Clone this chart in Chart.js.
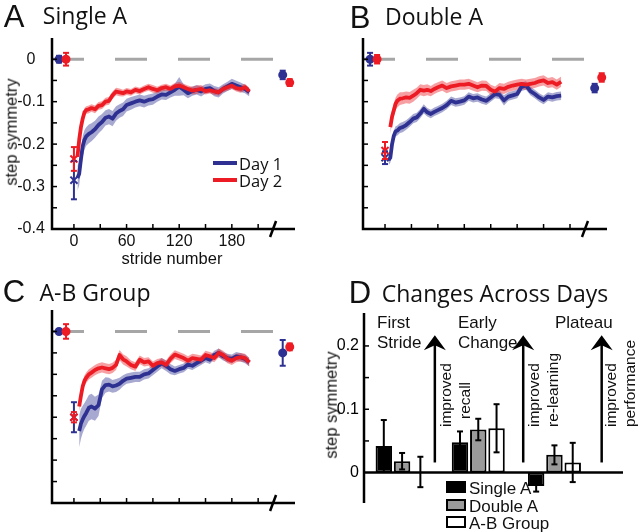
<!DOCTYPE html>
<html>
<head>
<meta charset="utf-8">
<script src="https://cdn.jsdelivr.net/npm/chart.js@4.4.0/dist/chart.umd.min.js"></script>
<style>
body{margin:0;background:#fff;}
#wrap{position:relative;width:640px;height:532px;overflow:hidden;font-family:"Liberation Sans",Arial,sans-serif;color:#111;}
canvas{position:absolute;left:0;top:0;}
.t{position:absolute;white-space:nowrap;line-height:1;}
.c{transform:translate(-50%,-50%);}
.l{transform:translate(0,-50%);}
.rot{transform:translate(-50%,-50%) rotate(-90deg);}
.big{font-size:31px;}
.ttl{font-family:"Open Sans",sans-serif;font-size:23px;}
.blk{position:absolute;white-space:nowrap;line-height:1;font-size:15.5px;transform-origin:0 0;transform:rotate(-90deg);}
.sw{position:absolute;width:20px;height:12px;box-sizing:border-box;border:2px solid #000;}
.leg{position:absolute;height:4px;width:24px;}
</style>
</head>
<body>
<div id="wrap">
<canvas id="cA" width="640" height="532"></canvas>
<canvas id="cB" width="640" height="532"></canvas>
<canvas id="cC" width="640" height="532"></canvas>
<canvas id="cD" width="640" height="532"></canvas>

<div class="t c big" style="left:14px;top:16px">A</div>
<div class="t c ttl" style="left:85px;top:15px">Single A</div>
<div class="t c big" style="left:360px;top:17px">B</div>
<div class="t c ttl" style="left:434px;top:16px">Double A</div>
<div class="t c big" style="left:14px;top:291px">C</div>
<div class="t c ttl" style="left:95px;top:292px">A-B Group</div>
<div class="t c big" style="left:360px;top:292px">D</div>
<div class="t c ttl" style="left:495px;top:293px">Changes Across Days</div>

<div class="t rot" style="left:11px;top:132px;font-size:16.5px">step symmetry</div>
<div class="t c" style="left:172px;top:258px;font-size:16.5px">stride number</div>

<div class="leg" style="left:213px;top:161px;background:#2e3192"></div>
<div class="leg" style="left:213px;top:178px;background:#ed1c24"></div>
<div class="t l" style="left:239px;top:164px;font-family:'Open Sans',sans-serif;font-size:16.5px">Day 1</div>
<div class="t l" style="left:239px;top:181px;font-family:'Open Sans',sans-serif;font-size:16.5px">Day 2</div>

<div class="t rot" style="left:331px;top:405px;font-size:16.5px">step symmetry</div>
<div class="t l" style="left:377px;top:322px;font-size:17px">First</div>
<div class="t l" style="left:377px;top:342px;font-size:17px">Stride</div>
<div class="t l" style="left:458px;top:322px;font-size:17px">Early</div>
<div class="t l" style="left:458px;top:342px;font-size:17px">Change</div>
<div class="t l" style="left:555px;top:322px;font-size:17px">Plateau</div>

<div class="blk" style="left:438px;top:427px">improved</div>
<div class="blk" style="left:457px;top:419px">recall</div>
<div class="blk" style="left:526px;top:427px">improved</div>
<div class="blk" style="left:545px;top:427px">re-learning</div>
<div class="blk" style="left:603px;top:427px">improved</div>
<div class="blk" style="left:622px;top:427px">performance</div>

<div class="sw" style="left:446px;top:481px;background:#000"></div>
<div class="sw" style="left:446px;top:499px;background:#9a9a9a"></div>
<div class="sw" style="left:446px;top:516px;background:#fff"></div>
<div class="t l" style="left:469px;top:488px;font-size:17px">Single A</div>
<div class="t l" style="left:469px;top:506px;font-size:17px">Double A</div>
<div class="t l" style="left:469px;top:523px;font-size:17px">A-B Group</div>
</div>

<script>
// stride positions of the averaged traces
const strides = [4,6,8,10,12,14,17,20,24,28,32,36,40,44,48,52,56,60,65,70,75,80,85,90,95,100,105,110,115,120,125,130,135,140,145,150,155,160,165,170,175,180,185,190,195,200];

const singleDay1 = [-0.28,-0.27,-0.235,-0.205,-0.19,-0.182,-0.176,-0.172,-0.165,-0.155,-0.148,-0.138,-0.135,-0.14,-0.128,-0.122,-0.118,-0.108,
  -0.104,-0.1,-0.097,-0.1,-0.096,-0.094,-0.088,-0.083,-0.084,-0.078,-0.072,-0.064,-0.072,-0.08,-0.075,-0.072,-0.076,-0.07,-0.068,-0.075,
  -0.078,-0.07,-0.064,-0.058,-0.062,-0.066,-0.07,-0.078];
const singleSem1 = [0.03,0.027,0.025,0.024,0.023,0.022,0.022,0.021,0.02,0.02,0.019,0.018,0.018,0.018,0.017,0.016,0.016,0.015,
  0.015,0.014,0.014,0.014,0.013,0.013,0.012,0.012,0.012,0.012,0.014,0.022,0.013,0.012,0.011,0.011,0.012,0.011,0.011,0.012,
  0.012,0.011,0.011,0.012,0.011,0.011,0.01,0.01];
const singleDay2 = [-0.23,-0.19,-0.16,-0.14,-0.125,-0.12,-0.118,-0.115,-0.118,-0.11,-0.108,-0.1,-0.098,-0.085,-0.076,-0.078,-0.08,-0.076,
  -0.078,-0.072,-0.075,-0.07,-0.066,-0.07,-0.073,-0.068,-0.066,-0.07,-0.064,-0.062,-0.066,-0.07,-0.074,-0.072,-0.07,-0.075,-0.073,-0.076,
  -0.078,-0.07,-0.066,-0.062,-0.068,-0.07,-0.066,-0.076];
const singleSem2 = [0.015,0.012,0.01,0.01,0.01,0.009,0.009,0.009,0.009,0.009,0.009,0.009,0.009,0.009,0.009,0.009,0.008,0.008,
  0.008,0.008,0.008,0.008,0.008,0.009,0.008,0.008,0.008,0.008,0.008,0.009,0.008,0.008,0.009,0.01,0.009,0.008,0.008,0.008,
  0.008,0.008,0.008,0.008,0.008,0.009,0.008,0.008];

const doubleDay1 = [-0.238,-0.232,-0.2,-0.18,-0.17,-0.168,-0.162,-0.16,-0.155,-0.148,-0.14,-0.137,-0.128,-0.117,-0.125,-0.129,-0.124,-0.12,
  -0.115,-0.108,-0.098,-0.102,-0.1,-0.097,-0.088,-0.092,-0.09,-0.095,-0.098,-0.09,-0.082,-0.084,-0.097,-0.088,-0.085,-0.082,-0.065,-0.062,
  -0.075,-0.082,-0.09,-0.096,-0.088,-0.09,-0.087,-0.086];
const doubleSem1 = [0.012,0.012,0.012,0.012,0.012,0.012,0.012,0.012,0.011,0.011,0.011,0.011,0.011,0.011,0.01,0.01,0.01,0.01,
  0.01,0.01,0.01,0.01,0.01,0.01,0.01,0.01,0.01,0.01,0.01,0.01,0.01,0.01,0.012,0.01,0.01,0.01,0.01,0.01,
  0.01,0.01,0.01,0.01,0.01,0.01,0.01,0.01];
const doubleDay2 = [null,-0.16,-0.135,-0.12,-0.105,-0.098,-0.093,-0.092,-0.09,-0.091,-0.086,-0.08,-0.072,-0.074,-0.072,-0.075,-0.07,-0.066,
  -0.062,-0.068,-0.064,-0.062,-0.06,-0.06,-0.058,-0.062,-0.066,-0.062,-0.063,-0.072,-0.076,-0.068,-0.07,-0.065,-0.062,-0.06,-0.058,-0.06,
  -0.058,-0.056,-0.052,-0.05,-0.056,-0.054,-0.06,-0.053];
const doubleSem2 = [null,0.016,0.016,0.016,0.015,0.015,0.015,0.014,0.014,0.014,0.014,0.013,0.013,0.013,0.013,0.012,0.012,0.012,
  0.012,0.012,0.012,0.012,0.012,0.012,0.012,0.012,0.012,0.012,0.012,0.012,0.012,0.012,0.012,0.012,0.012,0.012,0.012,0.012,
  0.012,0.012,0.012,0.012,0.012,0.012,0.012,0.012];

const abDay1 = [null,-0.232,-0.215,-0.205,-0.197,-0.19,-0.178,-0.175,-0.18,-0.172,-0.135,-0.125,-0.124,-0.128,-0.126,-0.122,-0.115,-0.11,
  -0.108,-0.106,-0.106,-0.1,-0.098,-0.09,-0.082,-0.074,-0.08,-0.088,-0.092,-0.088,-0.085,-0.077,-0.08,-0.074,-0.068,-0.062,-0.066,-0.055,
  -0.05,-0.058,-0.062,-0.064,-0.058,-0.06,-0.064,-0.072];
const abSem1 = [null,0.038,0.035,0.032,0.03,0.03,0.03,0.03,0.028,0.025,0.02,0.018,0.016,0.015,0.015,0.014,0.013,0.012,
  0.012,0.012,0.012,0.012,0.012,0.012,0.012,0.012,0.012,0.012,0.01,0.01,0.01,0.01,0.01,0.01,0.01,0.01,0.01,0.01,
  0.01,0.01,0.01,0.01,0.01,0.01,0.01,0.01];
const abDay2 = [null,-0.175,-0.15,-0.128,-0.115,-0.108,-0.1,-0.096,-0.09,-0.086,-0.084,-0.086,-0.088,-0.085,-0.078,-0.055,-0.065,-0.07,
  -0.078,-0.082,-0.066,-0.072,-0.07,-0.08,-0.074,-0.072,-0.078,-0.064,-0.054,-0.058,-0.062,-0.068,-0.062,-0.064,-0.066,-0.055,-0.058,-0.062,
  -0.05,-0.055,-0.064,-0.068,-0.062,-0.06,-0.062,-0.072];
const abSem2 = [null,0.012,0.012,0.012,0.012,0.012,0.012,0.012,0.012,0.012,0.012,0.012,0.012,0.012,0.012,0.012,0.012,0.012,
  0.01,0.01,0.01,0.01,0.01,0.01,0.01,0.01,0.01,0.01,0.01,0.01,0.01,0.01,0.01,0.01,0.01,0.01,0.01,0.01,
  0.01,0.01,0.01,0.01,0.01,0.01,0.01,0.01];

// baseline, first stride and post (after break) points
const ptStrides1 = [-17, 0, 238];
const ptStrides2 = [-9, 0, 246];
const singlePts1 = [0, -0.285, -0.037], singleErr1 = [0.008, 0.045, 0.01];
const singlePts2 = [0, -0.235, -0.055], singleErr2 = [0.015, 0.028, 0.008];
const doublePts1 = [0, -0.232, -0.068], doubleErr1 = [0.015, 0.015, 0.01];
const doublePts2 = [0, -0.215, -0.043], doubleErr2 = [0.01, 0.02, 0.01];
const abPts1 = [0, -0.2, -0.05], abErr1 = [0.005, 0.035, 0.03];
const abPts2 = [0, -0.2, -0.036], abErr2 = [0.017, 0.012, 0.008];

const zeroLine = [-25, 227];
const strideTickMarks = [0,30,60,90,120,150,180,210];
const strideLabels = [0,60,120,180];
const symTickMarks = [-0.35,-0.3,-0.25,-0.2,-0.15,-0.1,-0.05,0];
const symLabels = [0,-0.1,-0.2,-0.3,-0.4];
const breakStride = 227;

// panel D
const phases = ['First Stride','Early Change','Plateau'];
const phaseX = [0.5, 1.5, 2.5];
const singleChange = [0.042, 0.048, -0.021], singleChangeErr = [0.041, 0.017, 0.009];
const doubleChange = [0.018, 0.068, 0.028], doubleChangeErr = [0.013, 0.017, 0.015];
const abChange = [0.001, 0.07, 0.016], abChangeErr = [0.024, 0.038, 0.031];
const arrowX = [0.93, 2.09, 3.12];
const arrowFrom = 0.016, arrowTo = 0.217;
const changeTickMarks = [0.05,0.1,0.15,0.2];
const changeLabels = [0, 0.1, 0.2];

const blue = '#2e3192', red = '#ed1c24';
const blueBand = 'rgba(46,49,146,0.42)', redBand = 'rgba(237,28,36,0.42)';

function seg(ctx, x1, y1, x2, y2){ ctx.beginPath(); ctx.moveTo(x1,y1); ctx.lineTo(x2,y2); ctx.stroke(); }

const errPlugin = {
    id:'errs',
    afterDatasetsDraw(chart){
        const ctx = chart.ctx, ys = chart.scales.y;
        chart.data.datasets.forEach((ds,di)=>{
            if(!ds.errs) return;
            const meta = chart.getDatasetMeta(di);
            ctx.save();
            ctx.strokeStyle = ds.errColor || ds.borderColor;
            ctx.lineWidth = 2;
            meta.data.forEach((el,i)=>{
                const v = ds.data[i].y;
                const top = ys.getPixelForValue(v+ds.errs[i]), bot = ys.getPixelForValue(v-ds.errs[i]);
                seg(ctx, el.x, top, el.x, bot);
                seg(ctx, el.x-3, top, el.x+3, top);
                seg(ctx, el.x-3, bot, el.x+3, bot);
            });
            ctx.restore();
        });
    }
};

const axisPlugin = {
    id:'axes',
    afterDraw(chart, args, opts){
        const {ctx, chartArea:a, scales:{x,y}} = chart;
        ctx.save();
        ctx.strokeStyle = '#000'; ctx.lineCap = 'butt';
        ctx.lineWidth = 2.5;
        ctx.beginPath(); ctx.moveTo(a.left, a.top); ctx.lineTo(a.left, a.bottom); ctx.lineTo(a.right, a.bottom); ctx.stroke();
        ctx.lineWidth = 1.5;
        symTickMarks.forEach(v=>{ const p = y.getPixelForValue(v); seg(ctx, a.left, p, a.left+5, p); });
        strideTickMarks.forEach(v=>{ const p = x.getPixelForValue(v); seg(ctx, p, a.bottom, p, a.bottom-5); });
        const bx = x.getPixelForValue(breakStride);
        ctx.lineWidth = 2.5;
        seg(ctx, bx-3, a.bottom+8, bx+3, a.bottom-8);
        if(opts.labels){
            ctx.fillStyle = '#111';
            ctx.font = '16px "Liberation Sans", Arial, sans-serif';
            ctx.textAlign = 'center'; ctx.textBaseline = 'middle';
            symLabels.forEach(v=>{ ctx.fillText(v===0?'0':v.toFixed(1), a.left-21, y.getPixelForValue(v)); });
            strideLabels.forEach(v=>{ ctx.fillText(String(v), x.getPixelForValue(v), a.bottom+13); });
        }
        ctx.restore();
    }
};

function linePanel(id, pad, day1, sem1, day2, sem2, pts1, err1, pts2, err2, labels){
    const pairs = ys => strides.map((x,i)=>({x, y: ys[i]}));
    const shift = (ys, s, k) => ys.map((v,i)=> v===null ? null : v + k*s[i]);
    const band = (ys, col, fill) => ({data:pairs(ys), borderWidth:0, borderColor:'transparent', pointRadius:0, backgroundColor:col, fill});
    return new Chart(document.getElementById(id), {
        type:'line',
        data:{ datasets:[
            {data:zeroLine.map(x=>({x, y:0})), borderColor:'#a6a6a6', borderWidth:3, borderDash:[32,31], pointRadius:0, order:10},
            Object.assign(band(shift(day1,sem1,1), blueBand, '+1'), {order:9}),
            Object.assign(band(shift(day1,sem1,-1), blueBand, false), {order:9}),
            Object.assign(band(shift(day2,sem2,1), redBand, '+1'), {order:8}),
            Object.assign(band(shift(day2,sem2,-1), redBand, false), {order:8}),
            {data:pairs(day1), borderColor:blue, borderWidth:3.8, pointRadius:0, borderJoinStyle:'round', order:5},
            {data:pairs(day2), borderColor:red, borderWidth:3.8, pointRadius:0, borderJoinStyle:'round', order:4},
            {data:ptStrides1.map((x,i)=>({x, y:pts1[i]})), showLine:false, pointStyle:['circle','crossRot','circle'],
             pointRadius:[3.5,5,3.5], pointBorderWidth:2, backgroundColor:blue, borderColor:blue, errs:err1, order:2},
            {data:ptStrides2.map((x,i)=>({x, y:pts2[i]})), showLine:false, pointStyle:['circle','crossRot','circle'],
             pointRadius:[3.5,5,3.5], pointBorderWidth:2, backgroundColor:red, borderColor:red, errs:err2, order:1}
        ]},
        options:{
            responsive:false, animation:false,
            layout:{padding:pad},
            elements:{line:{tension:0}},
            plugins:{legend:{display:false}, tooltip:{enabled:false}, axes:{labels}},
            scales:{
                x:{type:'linear', display:false, min:-25, max:252},
                y:{display:false, min:-0.4, max:0.05}
            }
        },
        plugins:[axisPlugin, errPlugin]
    });
}

linePanel('cA', {left:52, top:38, right:640-295, bottom:532-229}, singleDay1, singleSem1, singleDay2, singleSem2, singlePts1, singleErr1, singlePts2, singleErr2, true);
linePanel('cB', {left:363, top:38, right:640-607, bottom:532-229}, doubleDay1, doubleSem1, doubleDay2, doubleSem2, doublePts1, doubleErr1, doublePts2, doubleErr2, false);
linePanel('cC', {left:52, top:310, right:640-295, bottom:532-503}, abDay1, abSem1, abDay2, abSem2, abPts1, abErr1, abPts2, abErr2, false);

const barAxisPlugin = {
    id:'baraxes',
    afterDraw(chart){
        const {ctx, chartArea:a, scales:{x,y}} = chart;
        ctx.save();
        ctx.strokeStyle = '#000'; ctx.fillStyle = '#000';
        ctx.lineWidth = 2.5;
        seg(ctx, a.left, a.top, a.left, a.bottom);
        const y0 = y.getPixelForValue(0);
        seg(ctx, a.left, y0, a.right, y0);
        ctx.lineWidth = 1.5;
        changeTickMarks.forEach(v=>{ const p = y.getPixelForValue(v); seg(ctx, a.left, p, a.left+5, p); });
        ctx.font = '16px "Liberation Sans", Arial, sans-serif';
        ctx.textAlign = 'right'; ctx.textBaseline = 'middle';
        changeLabels.forEach(v=>{ ctx.fillText(v===0?'0':v.toFixed(1), a.left-5, y.getPixelForValue(v)); });
        // arrows
        arrowX.forEach(v=>{
            const px = x.getPixelForValue(v), top = y.getPixelForValue(arrowTo), bot = y.getPixelForValue(arrowFrom);
            ctx.lineWidth = 2.5;
            seg(ctx, px, bot, px, top+8);
            ctx.beginPath();
            ctx.moveTo(px, top); ctx.lineTo(px+11, top+15); ctx.lineTo(px, top+10); ctx.lineTo(px-11, top+15);
            ctx.closePath(); ctx.fill();
        });
        ctx.restore();
    }
};

const barSet = (label, vals, errs, fill) => ({
    label, data: phaseX.map((x,i)=>({x, y:vals[i]})), errs, errColor:'#000',
    backgroundColor:fill, borderColor:'#000', borderWidth:2, borderSkipped:false
});

new Chart(document.getElementById('cD'), {
    type:'bar',
    data:{ datasets:[
        barSet('Single A', singleChange, singleChangeErr, '#000'),
        barSet('Double A', doubleChange, doubleChangeErr, '#9a9a9a'),
        barSet('A-B Group', abChange, abChangeErr, '#fff')
    ]},
    options:{
        responsive:false, animation:false,
        layout:{padding:{left:364, top:313, right:640-623, bottom:532-503}},
        datasets:{bar:{categoryPercentage:0.72, barPercentage:0.9}},
        plugins:{legend:{display:false}, tooltip:{enabled:false}},
        scales:{
            x:{type:'linear', display:false, offset:false, grid:{offset:false}, min:0, max:3.4, ticks:{stepSize:1, includeBounds:false}},
            y:{display:false, min:-0.048, max:0.252}
        }
    },
    plugins:[barAxisPlugin, errPlugin]
});
</script>
</body>
</html>
